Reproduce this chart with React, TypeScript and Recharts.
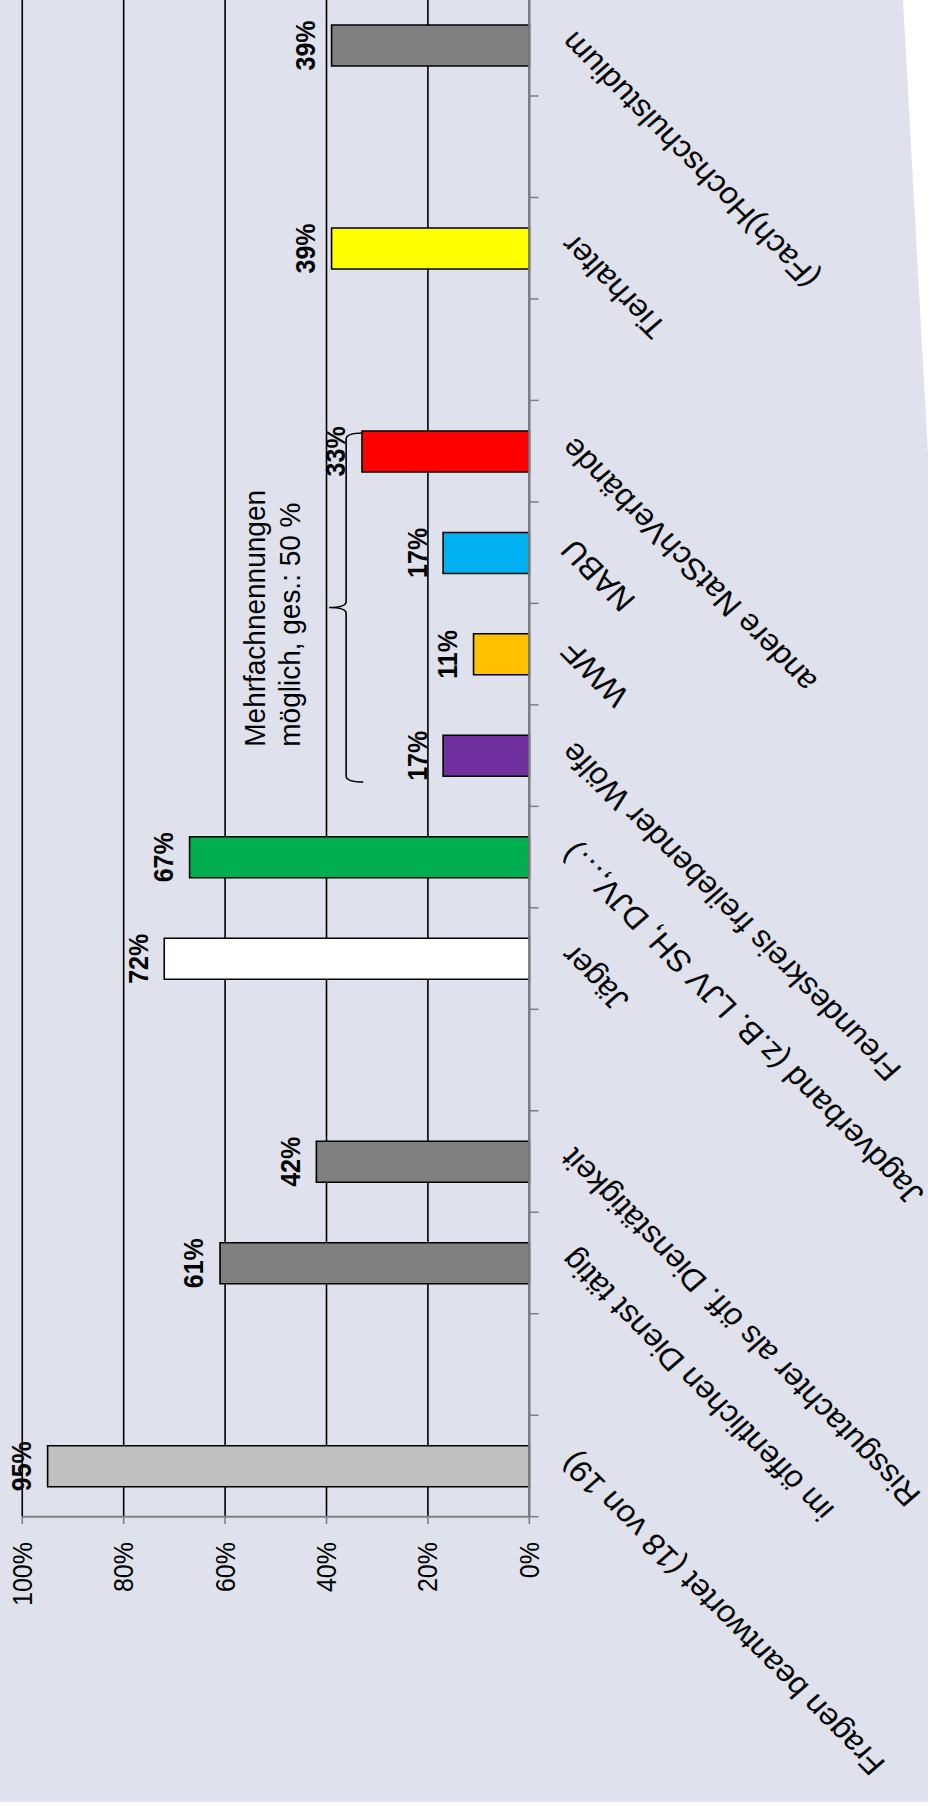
import { BarChart, Bar, XAxis, YAxis, CartesianGrid, Cell, LabelList, ReferenceArea } from 'recharts';

// categories left → right in the unrotated chart (bottom → top on the page)
const categories = [
  'Fragen beantwortet (18 von 19)',
  '',
  'im öffentlichen Dienst tätig',
  'Rissgutachter als öff. Dienstätigkeit',
  '',
  'Jäger',
  'Jagdverband (z.B. LJV SH, DJV,…)',
  'Freundeskreis freilebender Wölfe',
  'WWF',
  'NABU',
  'andere NatSchVerbände',
  '',
  'Tierhalter',
  '',
  '(Fach)Hochschulstudium',
];
const values = [95, null, 61, 42, null, 72, 67, 17, 11, 17, 33, null, 39, null, 39];
const colors = [
  '#C0C0C0', 'none', '#808080', '#808080', 'none', '#FFFFFF', '#00B050',
  '#7030A0', '#FFC000', '#00B0F0', '#FF0000', 'none', '#FFFF00', 'none', '#808080',
];
const valueTicks = [0, 20, 40, 60, 80, 100];
const noteLines = ['Mehrfachnennungen', 'möglich, ges.: 50 %'];

const data = categories.map((label, i) => ({ id: i, label, value: values[i] }));

const STRETCH = 1.07; // the picture is slightly taller than wide
const CHART_W = 1830;
const CHART_H = 870;

// label at the category centre, tick mark on the category's left edge (Excel style)
function CategoryTick(props: any) {
  const { x, y, payload, width } = props;
  const label = categories[payload.value];
  const half = payload.offset ?? (width ? width / categories.length / 2 : 0);
  const edge = x - half;
  return (
    <g>
      <line x1={edge} y1={y} x2={edge} y2={y + 8.7} stroke="#808080" strokeWidth={1.5} />
      {label ? (
        <g transform={`translate(${x + 8},${y + 35})`}>
          <text textAnchor="end" transform="rotate(-43)" dy="0.35em" fontSize={30.5} fill="#000">
            {label}
          </text>
        </g>
      ) : null}
    </g>
  );
}

// curly brace over the four associations, plus the note above it
function BraceShape(props: any) {
  const { x, y, width, height } = props;
  const xL = x + 24.3;
  const xR = x + width - 32.6;
  const xm = (xL + xR) / 2;
  const mid = y + height / 2;
  const bot = y + height;
  const r = 6;
  const d = `M${xL},${bot} Q${xL},${mid} ${xL + r},${mid} L${xm - r},${mid} Q${xm},${mid} ${xm},${y} Q${xm},${mid} ${xm + r},${mid} L${xR - r},${mid} Q${xR},${mid} ${xR},${bot}`;
  return (
    <g>
      <path d={d} fill="none" stroke="#000" strokeWidth={1.5} />
      <text x={x + 59.6} y={y - 59.8} fontSize={28} fill="#000">{noteLines[0]}</text>
      <text x={x + 59.6} y={y - 27.1} fontSize={28} fill="#000">{noteLines[1]}</text>
    </g>
  );
}

export default function App() {
  return (
    <div style={{ position: 'relative', width: 928, height: 1806, overflow: 'hidden', background: '#fff' }}>
      <style>{'body{margin:0;overflow:hidden}'}</style>
      <div
        style={{
          position: 'absolute',
          inset: 0,
          background: '#DFE1ED',
          clipPath: 'polygon(0px 0px, 903px 0px, 928px 455px, 928px 1801.7px, 0px 1801.7px)',
        }}
      />
      <div
        style={{
          position: 'absolute',
          left: 0,
          top: 0,
          width: CHART_W,
          height: CHART_H,
          transformOrigin: '0 0',
          transform: `translate(0px, 1806px) rotate(-90deg) scale(1, ${STRETCH})`,
          fontFamily: "Arial, 'Liberation Sans', sans-serif",
        }}
      >
        <BarChart
          width={CHART_W}
          height={CHART_H}
          data={data}
          margin={{ top: 20.8, right: 18.5, left: 0, bottom: 35.3 }}
        >
          <CartesianGrid vertical={false} stroke="#000" strokeWidth={1.5} />
          <XAxis
            type="category"
            dataKey="id"
            interval={0}
            height={340}
            tickSize={0}
            tickMargin={0}
            axisLine={{ stroke: '#808080', strokeWidth: 2 }}
            tickLine={false}
            tick={(p: any) => <CategoryTick {...p} />}
          />
          <YAxis
            type="number"
            domain={[0, 100]}
            ticks={valueTicks}
            interval={0}
            width={289.3}
            tickFormatter={(v: number) => `${v}%`}
            tick={{ fill: '#000', fontSize: 25 }}
            tickSize={7.3}
            tickMargin={18}
            axisLine={{ stroke: '#808080', strokeWidth: 2 }}
            tickLine={{ stroke: '#808080', strokeWidth: 1.5 }}
          />
          <Bar dataKey="value" barSize={41} stroke="#000" strokeWidth={1.5} isAnimationActive={false}>
            {data.map((d) => (
              <Cell key={d.id} fill={colors[d.id]} />
            ))}
            <LabelList
              dataKey="value"
              position="top"
              offset={15.5}
              fill="#000"
              fontSize={25}
              fontWeight="bold"
              formatter={(v: any) => (v == null ? '' : `${v}%`)}
            />
          </Bar>
          <ReferenceArea
            x1={7}
            x2={10}
            y1={32.75}
            y2={39.5}
            ifOverflow="visible"
            shape={(p: any) => <BraceShape {...p} />}
          />
        </BarChart>
      </div>
    </div>
  );
}
